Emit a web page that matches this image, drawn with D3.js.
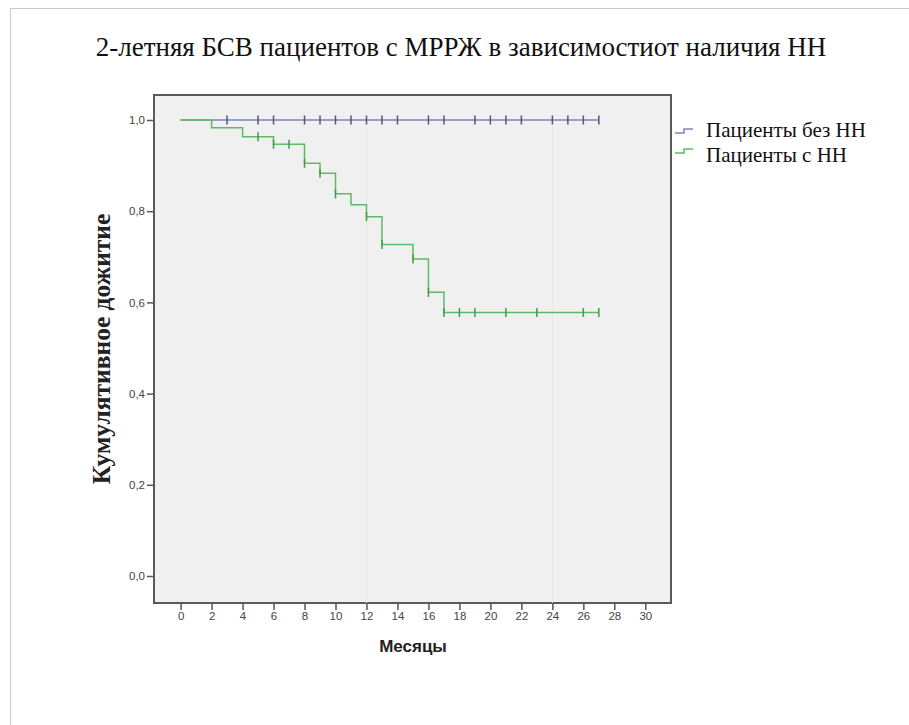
<!DOCTYPE html>
<html>
<head>
<meta charset="utf-8">
<script src="https://cdn.jsdelivr.net/npm/d3@7"></script>
<style>
  body { margin: 0; background: #fff; }
  svg { display: block; }
</style>
</head>
<body>
<div id="chart"></div>
<script>
// Kaplan-Meier data (months, cumulative survival)
const xTicks = d3.range(0, 31, 2);
const yTicks = [0, 0.2, 0.4, 0.6, 0.8, 1.0];

const seriesNames = ['Пациенты без НН', 'Пациенты с НН'];

// group without НН: no events
const noNNTimes = [0, 27];
const noNNSurv = [1.0, 1.0];
const noNNCensored = [3, 5, 6, 8, 9, 10, 11, 12, 13, 14, 16, 17, 19, 20, 21, 22, 24, 25, 26, 27];

// group with НН: step changes
const nnTimes = [0, 2, 4, 6, 8, 9, 10, 11, 12, 13, 15, 16, 17, 27];
const nnSurv = [1.0, 0.983, 0.963, 0.947, 0.905, 0.883, 0.838, 0.814, 0.788, 0.727, 0.695, 0.622, 0.578, 0.578];
const nnCensored = [5, 6, 7, 8, 9, 10, 12, 13, 15, 16, 17, 18, 19, 21, 23, 26, 27];

const W = 909;
const H = 725;
const serif = '"Liberation Serif", "Times New Roman", serif';
const sans = '"Liberation Sans", Arial, sans-serif';

const svg = d3.select('#chart')
  .append('svg')
  .attr('width', W)
  .attr('height', H);

// page border (top and left only)
svg.append('path')
  .attr('d', `M10.5,${H} V8.5 H${W}`)
  .attr('fill', 'none')
  .attr('stroke', '#c8c8c8')
  .attr('stroke-width', 1);

svg.append('text')
  .attr('x', 461)
  .attr('y', 56)
  .attr('text-anchor', 'middle')
  .attr('font-family', serif)
  .attr('font-size', '27px')
  .attr('fill', '#111')
  .text('2-летняя БСВ пациентов с МРРЖ в зависимостиот наличия НН');

const frame = { left: 154, top: 95, right: 671, bottom: 603 };

const x = d3.scaleLinear().domain([0, 30]).range([180.6, 645.3]);
const y = d3.scaleLinear().domain([0, 1]).range([576, 120]);

svg.append('rect')
  .attr('x', frame.left)
  .attr('y', frame.top)
  .attr('width', frame.right - frame.left)
  .attr('height', frame.bottom - frame.top)
  .attr('fill', '#f0f0f0')
  .attr('stroke', '#5a5a5a')
  .attr('stroke-width', 2);

// faint reference lines at 12 and 24 months
svg.selectAll('.ref')
  .data([12, 24])
  .enter()
  .append('line')
  .attr('x1', (d) => x(d))
  .attr('x2', (d) => x(d))
  .attr('y1', y(1) + 6)
  .attr('y2', frame.bottom)
  .attr('stroke', '#e6e6e6')
  .attr('stroke-width', 1);

const fmt = (d) => d3.format('.1f')(d).replace('.', ',');

const yAxis = svg.append('g')
  .attr('transform', `translate(${frame.left - 1},0)`)
  .call(d3.axisLeft(y).tickValues(yTicks).tickFormat(fmt).tickSize(6).tickSizeOuter(0).tickPadding(2));

const xAxis = svg.append('g')
  .attr('transform', `translate(0,${frame.bottom + 1})`)
  .call(d3.axisBottom(x).tickValues(xTicks).tickSize(6).tickSizeOuter(0).tickPadding(2));

[xAxis, yAxis].forEach((ax) => {
  ax.select('.domain').remove();
  ax.selectAll('line').attr('stroke', '#555').attr('stroke-width', 1.5);
  ax.selectAll('text')
    .attr('font-family', sans)
    .attr('font-size', '11.5px')
    .attr('fill', '#444');
});

// axis titles
svg.append('text')
  .attr('x', 413)
  .attr('y', 652)
  .attr('text-anchor', 'middle')
  .attr('font-family', sans)
  .attr('font-weight', 'bold')
  .attr('font-size', '17px')
  .attr('fill', '#222')
  .text('Месяцы');

svg.append('text')
  .attr('transform', 'translate(110,349) rotate(-90)')
  .attr('text-anchor', 'middle')
  .attr('font-family', serif)
  .attr('font-weight', 'bold')
  .attr('font-size', '25.5px')
  .attr('fill', '#222')
  .text('Кумулятивное дожитие');

// survival curves
const colors = ['#7f86b4', '#5fba66'];
const tickColors = ['#4f567f', '#3f9a48'];

const step = d3.line()
  .x((d) => x(d[0]))
  .y((d) => y(d[1]))
  .curve(d3.curveStepAfter);

const groups = [
  { pts: d3.zip(noNNTimes, noNNSurv), cens: noNNCensored, times: noNNTimes, surv: noNNSurv },
  { pts: d3.zip(nnTimes, nnSurv), cens: nnCensored, times: nnTimes, surv: nnSurv },
];

groups.forEach((g, i) => {
  svg.append('path')
    .datum(g.pts)
    .attr('d', step)
    .attr('fill', 'none')
    .attr('stroke', colors[i])
    .attr('stroke-width', 1.5);

  const survAt = (t) => g.surv[d3.bisectRight(g.times, t) - 1];

  svg.selectAll(`.cens${i}`)
    .data(g.cens)
    .enter()
    .append('line')
    .attr('class', `cens${i}`)
    .attr('x1', (d) => x(d))
    .attr('x2', (d) => x(d))
    .attr('y1', (d) => y(survAt(d)) - 4.5)
    .attr('y2', (d) => y(survAt(d)) + 4.5)
    .attr('stroke', tickColors[i])
    .attr('stroke-width', 1.5);
});

// legend
const legend = svg.append('g');
seriesNames.forEach((name, i) => {
  const ly = 133 + i * 20;
  legend.append('path')
    .attr('d', `M675,${ly} H684 V${ly - 4} H693`)
    .attr('fill', 'none')
    .attr('stroke', colors[i])
    .attr('stroke-width', 1.5);
  legend.append('text')
    .attr('x', 706)
    .attr('y', 137 + i * 25)
    .attr('font-family', serif)
    .attr('font-size', '21px')
    .attr('fill', '#111')
    .text(name);
});
</script>
</body>
</html>
